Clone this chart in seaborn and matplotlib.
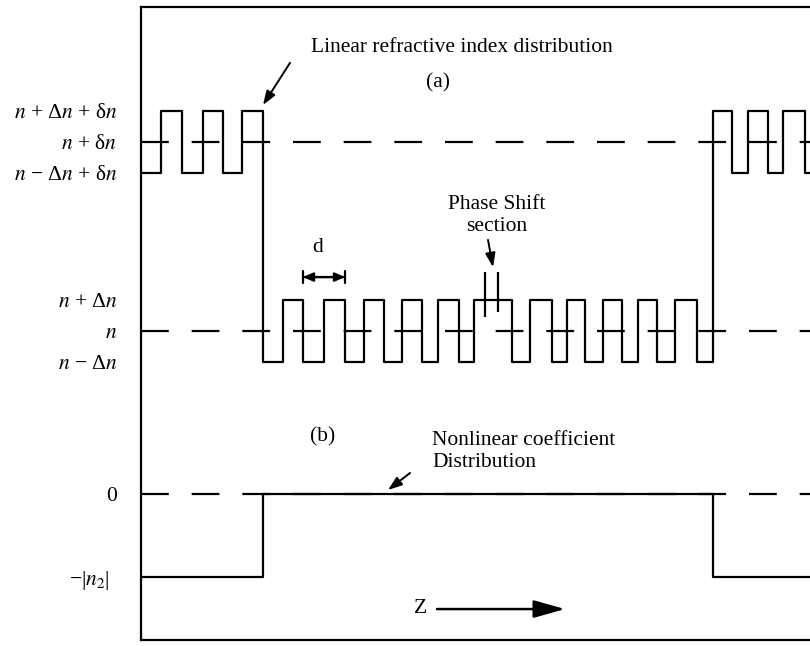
import matplotlib
matplotlib.use("Agg")
import matplotlib.pyplot as plt
import pandas as pd
import seaborn as sns

# Index levels in arbitrary units (n is the reference level 0)
n0 = 0.0
delta_n = 1.0        # grating modulation  Δn
shift_n = 6.1        # offset of the nonlinear sections  δn
nl_zero = -5.26      # nonlinear coefficient = 0
nl_n2 = -7.94        # nonlinear coefficient = -|n2|

# Grating edges along z and the level held after each edge
# H/L: high/low of the shifted (nonlinear) gratings, h/l: high/low of the linear grating
z_edges = [0, 20, 41, 62, 82, 101,
           122, 142, 162, 183, 204, 223, 243, 261, 281, 297, 318, 333,
           371, 389, 411, 426, 444, 462, 481, 497, 516, 534, 556,
           572, 591, 607, 627, 642, 664, 669]
level_codes = ["L", "H", "L", "H", "L", "H",
               "l", "h", "l", "h", "l", "h", "l", "h", "l", "h", "l", "h",
               "l", "h", "l", "h", "l", "h", "l", "h", "l", "h", "l",
               "H", "L", "H", "L", "H", "L", "L"]

# Nonlinear coefficient profile
z_nl = [0, 122, 572, 669]
nl_levels = [nl_n2, nl_zero, nl_n2, nl_n2]

# Phase-shift section markers and grating period marker
phase_marks_z = [344, 357]
period_z = [162, 204]

level_map = {
    "H": n0 + delta_n + shift_n,
    "L": n0 - delta_n + shift_n,
    "h": n0 + delta_n,
    "l": n0 - delta_n,
}

tick_values = [n0 + delta_n + shift_n, n0 + shift_n, n0 - delta_n + shift_n,
               n0 + delta_n, n0, n0 - delta_n, nl_zero, nl_n2]
tick_labels = [r"$n$ + Δ$n$ + δ$n$", r"$n$ + δ$n$", r"$n$ − Δ$n$ + δ$n$",
               r"$n$ + Δ$n$", r"$n$", r"$n$ − Δ$n$", "0", r"−|$n_2$|"]

sns.set_theme(style="white")
plt.rcParams["font.family"] = ["Liberation Serif", "DejaVu Serif"]
plt.rcParams["mathtext.fontset"] = "stix"
plt.rcParams["text.color"] = "black"
plt.rcParams["ytick.color"] = "black"
plt.rcParams["ytick.labelcolor"] = "black"

FS = 15.5
LW = 1.6

index_df = pd.DataFrame({"z": z_edges, "level": [level_map[c] for c in level_codes]})
nl_df = pd.DataFrame({"z": z_nl, "level": nl_levels})

fig = plt.figure(figsize=(8.1, 6.46), dpi=100)
ax = fig.add_axes([141 / 810, 6 / 646, 669 / 810, 633 / 646])

# dashed reference levels
for yv in (n0 + shift_n, n0, nl_zero):
    ax.axhline(yv, color="black", lw=LW, linestyle=(0, (12.5, 10.3)), zorder=1)

sns.lineplot(data=index_df, x="z", y="level", drawstyle="steps-post",
             estimator=None, sort=False, color="black", lw=LW, ax=ax, zorder=3)
sns.lineplot(data=nl_df, x="z", y="level", drawstyle="steps-post",
             estimator=None, sort=False, color="black", lw=LW, ax=ax, zorder=3)

ax.set_xlim(0, 669)
ax.set_ylim(-9.968, 10.452)
ax.set_xlabel("")
ax.set_ylabel("")
ax.set_xticks([])
ax.set_yticks(tick_values)
ax.set_yticklabels(tick_labels, fontsize=FS, color="black")
ax.tick_params(axis="y", length=0, pad=17)
# the -|n2| label sits a little further from the axis
ax.get_yticklabels()[-1].set_x(-0.012)

for side in ("left", "top", "bottom"):
    ax.spines[side].set_color("black")
    ax.spines[side].set_linewidth(LW)
ax.spines["right"].set_visible(False)

# phase-shift section markers
ax.vlines(phase_marks_z[0], 0.45, 1.90, color="black", lw=LW, zorder=4)
ax.vlines(phase_marks_z[1], 0.61, 1.90, color="black", lw=LW, zorder=4)

# grating period d
ax.annotate("", xy=(period_z[1], 1.74), xytext=(period_z[0], 1.74),
            arrowprops=dict(arrowstyle="<|-|>,head_length=0.5,head_width=0.22",
                            color="black", lw=LW, shrinkA=0, shrinkB=0))
ax.annotate("", xy=(period_z[1], 1.74), xytext=(period_z[0], 1.74),
            arrowprops=dict(arrowstyle="|-|,widthA=0.35,widthB=0.35",
                            color="black", lw=LW, shrinkA=0, shrinkB=0))
ax.text(177, 2.4, "d", fontsize=FS, ha="center", va="bottom")

arrow_kw = dict(arrowstyle="-|>,head_length=0.7,head_width=0.25",
                color="black", lw=1.4, shrinkA=0, shrinkB=0)

ax.text(170, 9.16, "Linear refractive index distribution", fontsize=FS,
        ha="left", va="center")
ax.annotate("", xy=(122, 7.29), xytext=(149, 8.65), arrowprops=arrow_kw)
ax.text(297, 8.0, "(a)", fontsize=FS, ha="center", va="center")

ax.text(356, 3.72, "Phase Shift\nsection", fontsize=FS, ha="center",
        va="center", linespacing=1.2)
ax.annotate("", xy=(352, 2.06), xytext=(347, 2.94), arrowprops=arrow_kw)

ax.text(182, -3.42, "(b)", fontsize=FS, ha="center", va="center")
ax.text(291, -3.89, "Nonlinear coefficient\nDistribution", fontsize=FS,
        ha="left", va="center", linespacing=1.2)
ax.annotate("", xy=(247, -5.13), xytext=(269, -4.58), arrowprops=arrow_kw)

ax.text(280, -8.94, "Z", fontsize=FS, ha="center", va="center")
ax.annotate("", xy=(424, -8.97), xytext=(296, -8.97),
            arrowprops=dict(arrowstyle="-|>,head_length=1.6,head_width=0.45",
                            color="black", lw=1.8, shrinkA=0, shrinkB=0))

fig.savefig("out.png", dpi=100)
